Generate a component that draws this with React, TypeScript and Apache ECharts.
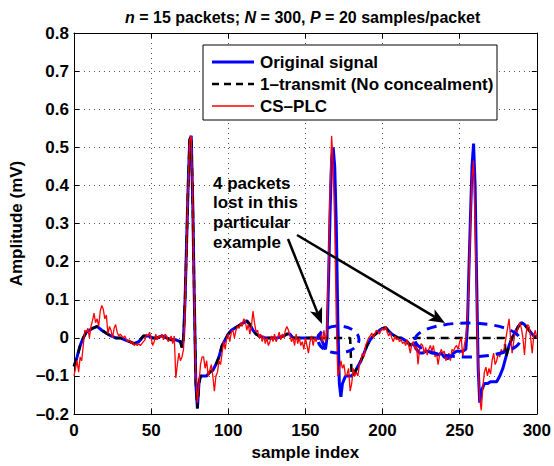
import React, { useEffect, useRef } from "react";
import * as echarts from "echarts";

// ---- data ----
const packetSize = 20;
const lostPackets = [8, 11, 12, 13];

const origIdx = [
  0, 2, 4, 6, 8, 10, 12, 15, 18, 21, 24, 27, 30, 33, 36, 39, 42, 45, 48, 51, 54, 57, 60, 63, 66, 69,
  70, 71, 72, 73, 74, 75, 76, 77, 78, 79, 80, 81, 82, 83, 84, 86, 88, 90, 92, 94, 96, 98, 100, 102,
  104, 106, 108, 110, 112, 114, 116, 118, 120, 124, 128, 132, 136, 138, 140, 142, 146, 150, 154, 158,
  160, 162, 163, 164, 165, 166, 167, 168, 169, 170, 171, 172, 173, 174, 176, 178, 180, 182, 184, 186,
  188, 190, 192, 194, 196, 198, 200, 202, 204, 206, 208, 210, 212, 214, 216, 218, 220, 222, 224, 226,
  228, 230, 232, 234, 236, 238, 240, 242, 244, 246, 248, 250, 252, 254, 255, 256, 257, 258, 259, 260,
  261, 262, 263, 264, 266, 268, 270, 272, 274, 276, 278, 280, 282, 284, 286, 288, 290, 292, 294, 296,
  298, 300,
];
const origVal = [
  -0.075, -0.05, -0.02, 0.0, 0.015, 0.02, 0.025, 0.03, 0.02, 0.012, 0.005, 0.0, 0.0, -0.005, -0.01, -0.015, -0.01, 0.005, 0.005, 0.0, 0.0, 0.005, 0.0, -0.005, -0.005, -0.01,
  -0.025, 0.0, 0.1, 0.25, 0.4, 0.52, 0.53, 0.35, 0.1, -0.12, -0.185, -0.12, -0.1, -0.1, -0.1, -0.1, -0.09, -0.085, -0.07, -0.05, -0.02, -0.005, 0.01, 0.02,
  0.025, 0.03, 0.035, 0.04, 0.045, 0.035, 0.02, 0.01, 0.005, 0.0, 0.0, 0.0, 0.005, 0.01, 0.01, 0.0, 0.0, 0.0, 0.0, 0.0,
  0.0, -0.02, -0.03, 0.0, 0.15, 0.33, 0.47, 0.5, 0.45, 0.3, 0.05, -0.12, -0.155, -0.12, -0.1, -0.1, -0.1, -0.09, -0.075, -0.06,
  -0.04, -0.02, -0.005, 0.005, 0.012, 0.02, 0.025, 0.027, 0.018, 0.01, 0.005, 0.0, 0.0, -0.005, -0.01, -0.02, -0.015, -0.03, -0.04, -0.04,
  -0.035, -0.035, -0.04, -0.04, -0.045, -0.04, -0.05, -0.055, -0.05, -0.04, -0.035, -0.035, -0.035, -0.03, 0.03, 0.18, 0.32, 0.45, 0.51, 0.4,
  0.15, -0.08, -0.17, -0.14, -0.12, -0.12, -0.115, -0.115, -0.115, -0.1, -0.08, -0.05, -0.02, 0.0, 0.015, 0.03, 0.04, 0.035, 0.025, 0.015,
  0.005, 0.0,
];

// CS-PLC reconstruction, one value per sample (index = sample)
const csplc = [
  -0.1, -0.08, -0.06, -0.09, -0.05, -0.06, -0.02, 0.02, 0.015, 0.025,
  0.0, 0.03, 0.045, 0.065, 0.04, 0.05, 0.03, 0.07, 0.085, 0.075,
  0.05, 0.06, 0.01, 0.03, 0.02, 0.0, 0.025, 0.035, 0.015, 0.005,
  0.01, 0.005, 0.0, 0.005, -0.005, -0.01, -0.005, -0.015, -0.01, -0.02,
  -0.015, -0.02, -0.015, -0.02, -0.015, -0.01, -0.005, 0.01, 0.005, 0.015,
  0.0, -0.02, -0.01, 0.01, -0.005, 0.005, 0.0, 0.01, -0.005, 0.01,
  0.005, -0.01, -0.005, 0.005, -0.015, 0.005, -0.105, -0.07, -0.04, -0.06,
  -0.05, -0.03, 0.08, 0.25, 0.4, 0.52, 0.53, 0.35, 0.08, -0.1,
  -0.17, -0.12, -0.07, -0.05, -0.05, -0.08, -0.06, -0.1, -0.085, -0.07,
  -0.1, -0.14, -0.1, -0.09, -0.06, -0.07, -0.04, -0.01, -0.03, 0.0,
  0.01, -0.01, 0.015, 0.02, 0.0, 0.02, 0.03, 0.025, 0.04, 0.03,
  0.05, 0.045, 0.02, 0.035, 0.01, 0.03, 0.07, 0.04, 0.015, 0.02,
  0.0, 0.01, -0.01, 0.005, -0.015, 0.0, -0.02, -0.01, 0.005, -0.01,
  0.01, -0.01, 0.0, 0.015, -0.005, 0.01, 0.0, 0.02, 0.03, 0.02,
  0.005, -0.01, 0.0, -0.02, 0.01, -0.015, 0.0, -0.02, -0.01, -0.03,
  0.0, -0.02, -0.04, -0.01, 0.005, -0.02, 0.0, -0.01, 0.01, -0.005,
  0.015, -0.01, 0.02, -0.01, 0.02, 0.2, 0.4, 0.53, 0.45, 0.3,
  0.05, -0.1, -0.085, -0.06, -0.08, -0.07, -0.1, -0.095, -0.08, -0.14,
  -0.12, -0.08, -0.1, -0.09, -0.1, -0.07, -0.06, -0.04, -0.05, -0.02,
  -0.01, 0.0, 0.005, 0.013, 0.0, 0.01, 0.02, 0.017, 0.01, 0.02,
  0.025, 0.02, 0.03, 0.015, 0.005, 0.015, 0.0, -0.01, 0.005, -0.005,
  0.0, -0.01, -0.005, -0.015, -0.01, -0.02, -0.005, -0.02, -0.04, -0.015,
  -0.01, -0.03, -0.02, -0.07, -0.03, -0.015, -0.02, -0.04, -0.025, -0.045,
  -0.03, -0.02, -0.035, -0.02, -0.05, -0.04, -0.07, -0.045, -0.03, -0.04,
  -0.035, -0.06, -0.05, -0.04, -0.06, -0.03, -0.035, -0.025, -0.02, -0.03,
  -0.01, 0.0, -0.05, -0.02, 0.0, 0.05, 0.15, 0.3, 0.42, 0.465,
  0.3, 0.1, -0.08, -0.16, -0.19, -0.13, -0.09, -0.077, -0.1, -0.08,
  -0.095, -0.06, -0.04, -0.07, -0.06, -0.04, -0.05, -0.03, -0.04, -0.025,
  0.0, 0.025, 0.05, 0.0, -0.04, -0.01, 0.02, 0.01, 0.03, 0.04,
  0.025, 0.0, -0.045, 0.01, 0.035, 0.03, 0.0, -0.04, 0.005, 0.02,
  0.0,
];

const xMin = 0, xMax = 300, xStep = 50;
const yMin = -0.2, yMax = 0.8, yStep = 0.1;

const titleText = "{i|n} = 15 packets; {i|N} = 300, {i|P} = 20 samples/packet";
const legendNames = ["Original signal", "1\u2013transmit (No concealment)", "CS\u2013PLC"];
const annotationLines = ["4 packets", "lost in this", "particular", "example"];

const FONT = "'Liberation Sans', Arial, Helvetica, sans-serif";

function arrow(x1: number, y1: number, x2: number, y2: number) {
  const dx = x2 - x1, dy = y2 - y1;
  const len = Math.sqrt(dx * dx + dy * dy);
  const ux = dx / len, uy = dy / len;
  const nx = -uy, ny = ux;
  const L = 16, W = 6.5;
  const bx = x2 - L * ux, by = y2 - L * uy;
  const mx = x2 - 0.75 * L * ux, my = y2 - 0.75 * L * uy;
  return [
    { type: "line", shape: { x1, y1, x2: mx, y2: my }, style: { stroke: "#000", lineWidth: 2.5 }, z: 100 },
    {
      type: "polygon",
      shape: { points: [[x2, y2], [bx + W * nx, by + W * ny], [mx, my], [bx - W * nx, by - W * ny]] },
      style: { fill: "#000" },
      z: 100,
    },
  ];
}

export default function App() {
  const ref = useRef<HTMLDivElement>(null);

  useEffect(() => {
    document.body.style.margin = "0";
    if (!ref.current) return;
    const chart = echarts.init(ref.current, undefined, { renderer: "svg" });

    const orig = origIdx.map((s, i) => [s, origVal[i]]);
    const isLost = (s: number) => lostPackets.includes(Math.floor(s / packetSize));
    const oneTx: number[][] = [];
    origIdx.forEach((s, i) => {
      if (!isLost(s)) oneTx.push([s, origVal[i]]);
    });
    lostPackets.forEach((p) => {
      oneTx.push([p * packetSize, 0], [p * packetSize + packetSize - 1, 0]);
    });
    oneTx.sort((a, b) => a[0] - b[0]);
    const rec = csplc.map((v, i) => [i, v]);

    const fmtY = (v: number) => {
      if (Math.abs(v) < 1e-9) return "0";
      return v < 0 ? "\u2013" + Math.abs(v).toFixed(1) : v.toFixed(1);
    };

    const splitStyle = { show: true, lineStyle: { color: "#555", type: [1, 4] as any, width: 1 } };
    const labelStyle = { fontFamily: FONT, fontWeight: "bold", fontSize: 17, color: "#000" };

    const legendX = 203, legendY = 45, legendW = 294, legendH = 75;
    const rowsY = [62, 84, 106];
    const legendGraphics: any[] = [
      {
        type: "rect",
        shape: { x: legendX, y: legendY, width: legendW, height: legendH },
        style: { fill: "#fff", stroke: "#000", lineWidth: 1 },
        z: 90,
      },
      { type: "line", shape: { x1: 212, y1: rowsY[0], x2: 254, y2: rowsY[0] }, style: { stroke: "#0000ff", lineWidth: 3 }, z: 91 },
      { type: "line", shape: { x1: 212, y1: rowsY[1], x2: 254, y2: rowsY[1] }, style: { stroke: "#000", lineWidth: 2.5, lineDash: [7, 5] }, z: 91 },
      { type: "line", shape: { x1: 212, y1: rowsY[2], x2: 254, y2: rowsY[2] }, style: { stroke: "#ff0000", lineWidth: 1.3 }, z: 91 },
      ...legendNames.map((t, i) => ({
        type: "text",
        x: 260,
        y: rowsY[i],
        style: { text: t, fill: "#000", fontFamily: FONT, fontWeight: "bold", fontSize: 17, verticalAlign: "middle", align: "left" },
        z: 91,
      })),
    ];

    const annotation: any[] = annotationLines.map((t, i) => ({
      type: "text",
      x: 213,
      y: 183 + i * 19.7,
      style: { text: t, fill: "#000", fontFamily: FONT, fontWeight: "bold", fontSize: 17, verticalAlign: "middle", align: "left" },
      z: 100,
    }));

    const ellipses: any[] = [
      {
        type: "ellipse",
        shape: { cx: 338.5, cy: 339.5, rx: 20.5, ry: 13.5 },
        style: { fill: "none", stroke: "#0000ff", lineWidth: 3, lineDash: [9, 7] },
        z: 95,
      },
      {
        type: "ellipse",
        shape: { cx: 467.5, cy: 340, rx: 52.5, ry: 17 },
        style: { fill: "none", stroke: "#0000ff", lineWidth: 3, lineDash: [10, 7] },
        z: 95,
      },
    ];

    chart.setOption({
      animation: false,
      title: {
        text: titleText,
        left: 120,
        top: 4,
        textStyle: {
          fontFamily: FONT,
          fontWeight: "bold",
          fontSize: 16,
          color: "#000",
          rich: {
            i: { fontFamily: FONT, fontWeight: "bold", fontStyle: "italic", fontSize: 16, color: "#000" },
          },
        },
      },
      grid: { left: 69, right: 14, top: 33, bottom: 45, containLabel: false },
      xAxis: [
        {
          type: "value",
          min: xMin,
          max: xMax,
          interval: xStep,
          position: "bottom",
          name: "sample index",
          nameLocation: "middle",
          nameGap: 27,
          nameTextStyle: { fontFamily: FONT, fontWeight: "bold", fontSize: 17, color: "#000" },
          axisLine: { show: true, onZero: false, lineStyle: { color: "#000", width: 1 } },
          axisTick: { show: true, inside: true, length: 5, lineStyle: { color: "#000" } },
          axisLabel: { ...labelStyle, margin: 8 },
          splitLine: splitStyle,
        },
        {
          type: "value",
          min: xMin,
          max: xMax,
          interval: xStep,
          position: "top",
          axisLine: { show: true, onZero: false, lineStyle: { color: "#000", width: 1 } },
          axisTick: { show: true, inside: true, length: 5, lineStyle: { color: "#000" } },
          axisLabel: { show: false },
          splitLine: { show: false },
        },
      ],
      yAxis: [
        {
          type: "value",
          min: yMin,
          max: yMax,
          interval: yStep,
          position: "left",
          name: "Amplitude (mV)",
          nameLocation: "middle",
          nameGap: 42,
          nameTextStyle: { fontFamily: FONT, fontWeight: "bold", fontSize: 17, color: "#000" },
          axisLine: { show: true, onZero: false, lineStyle: { color: "#000", width: 1 } },
          axisTick: { show: true, inside: true, length: 5, lineStyle: { color: "#000" } },
          axisLabel: { ...labelStyle, margin: 5, formatter: fmtY },
          splitLine: splitStyle,
        },
        {
          type: "value",
          min: yMin,
          max: yMax,
          interval: yStep,
          position: "right",
          axisLine: { show: true, onZero: false, lineStyle: { color: "#000", width: 1 } },
          axisTick: { show: true, inside: true, length: 5, lineStyle: { color: "#000" } },
          axisLabel: { show: false },
          splitLine: { show: false },
        },
      ],
      series: [
        {
          name: legendNames[0],
          type: "line",
          data: orig,
          showSymbol: false,
          symbol: "none",
          lineStyle: { color: "#0000ff", width: 3 },
          z: 2,
        },
        {
          name: legendNames[1],
          type: "line",
          data: oneTx,
          showSymbol: false,
          symbol: "none",
          lineStyle: { color: "#000", width: 2.5, type: [8, 6] as any },
          z: 3,
        },
        {
          name: legendNames[2],
          type: "line",
          data: rec,
          showSymbol: false,
          symbol: "none",
          lineStyle: { color: "#ff0000", width: 1.3 },
          z: 4,
        },
      ],
      graphic: [
        ...ellipses,
        ...arrow(288, 239, 322, 324),
        ...arrow(297, 235, 445, 323),
        ...annotation,
        ...legendGraphics,
      ],
    });

    return () => chart.dispose();
  }, []);

  return <div ref={ref} style={{ width: 554, height: 466 }} />;
}
